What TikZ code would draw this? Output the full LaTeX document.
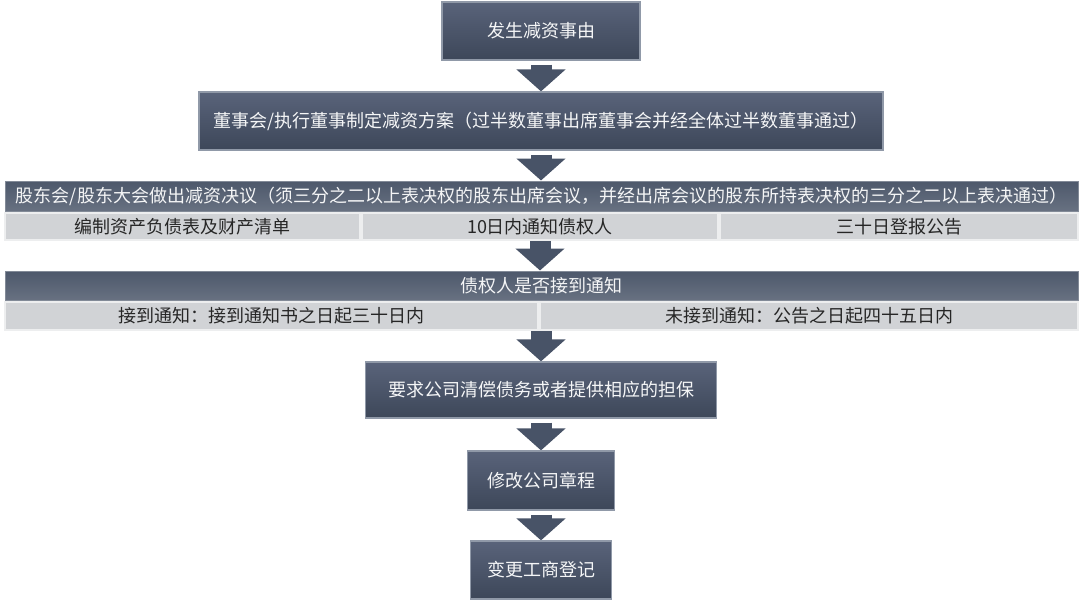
\documentclass[tikz,border=0pt]{standalone}
\usepackage{fontspec}
\setmainfont{Noto Sans CJK SC}
\usepackage{tikz}
\usetikzlibrary{arrows.meta}
\usetikzlibrary{backgrounds}

\definecolor{slatetop}{HTML}{59637A}
\definecolor{slatebot}{HTML}{3D4759}
\definecolor{slateedge}{HTML}{9099A8}
\definecolor{barcol}{HTML}{4D586B}
\definecolor{cellcol}{HTML}{D1D3D6}
\definecolor{celledge}{HTML}{EDEEEF}
\definecolor{arrowcol}{HTML}{485367}

\begin{document}
\begin{tikzpicture}[x=1pt, y=-1pt,
		stepbox/.style={top color=slatetop, bottom color=slatebot, draw=slateedge, line width=1.2pt, text=white!94!slatetop, inner sep=0pt, font=\fontsize{18}{22}\selectfont},
		headbar/.style={top color=barcol, bottom color=barcol!85!white, draw=barcol!70!white, line width=1pt, text=white!94!barcol, inner sep=0pt, minimum width=1073pt, font=\fontsize{18}{22}\selectfont},
		subcell/.style={fill=cellcol, draw=celledge, line width=1.8pt, text=black!85, inner sep=0pt, font=\fontsize{18}{22}\selectfont},
		flow/.style={draw=arrowcol, line width=21pt, -{Triangle[width=48pt, length=22pt]}, color=arrowcol}]

		\useasboundingbox (0,0) rectangle (1080,602);

		\node[stepbox, minimum width=198pt, minimum height=58pt] (start) at (541,31) {发生减资事由};

		\node[stepbox, minimum width=684pt, minimum height=58pt] (plan) at (541,121) {董事会/执行董事制定减资方案（过半数董事出席董事会并经全体过半数董事通过）};

		\node[headbar, minimum height=30pt] (meeting) at (541.5,196) {股东会/股东大会做出减资决议（须三分之二以上表决权的股东出席会议，并经出席会议的股东所持表决权的三分之二以上表决通过）};
		\node[subcell, minimum width=355pt, minimum height=27pt] (sheet) at (182.5,226.5) {编制资产负债表及财产清单};
		\node[subcell, minimum width=356pt, minimum height=27pt] (notify) at (540,226.5) {10日内通知债权人};
		\node[subcell, minimum width=358pt, minimum height=27pt] (announce) at (899,226.5) {三十日登报公告};

		\node[headbar, minimum height=29pt] (received) at (541.5,285.5) {债权人是否接到通知};
		\node[subcell, minimum width=533pt, minimum height=28pt] (yes) at (271.5,316) {接到通知：接到通知书之日起三十日内};
		\node[subcell, minimum width=538pt, minimum height=28pt] (no) at (809,316) {未接到通知：公告之日起四十五日内};

		\node[stepbox, minimum width=351pt, minimum height=56pt] (repay) at (541,390) {要求公司清偿债务或者提供相应的担保};

		\node[stepbox, minimum width=147pt, minimum height=59pt] (charter) at (541,480.5) {修改公司章程};

		\node[stepbox, minimum width=141pt, minimum height=58pt] (register) at (541,570) {变更工商登记};


		\begin{scope}[on background layer]
			\draw[flow] ([yshift=-4pt]start.south) -- (plan.north);
			\draw[flow] ([yshift=-4pt]plan.south) -- (plan.south |- meeting.north);
			\draw[flow] (notify.south) -- (notify.south |- received.north);
			\draw[flow] (repay.north |- no.south) -- (repay.north);
			\draw[flow] ([yshift=-4pt]repay.south) -- (charter.north);
			\draw[flow] ([yshift=-4pt]charter.south) -- (register.north);
		\end{scope}

	\end{tikzpicture}
\end{document}
